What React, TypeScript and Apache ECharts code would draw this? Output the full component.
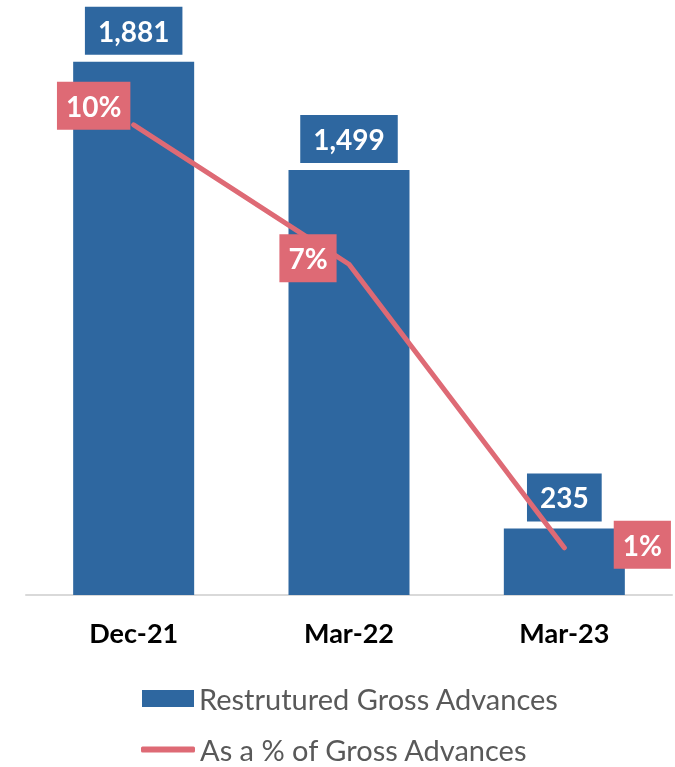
import React, { useEffect, useRef } from "react";
import * as echarts from "echarts";

const categories = ["Dec-21", "Mar-22", "Mar-23"];
const advances = [1881, 1499, 235];
const pctOfGross = [9.95, 7.0, 1.0];
const pctLabels = ["10%", "7%", "1%"];
const barName = "Restrutured Gross Advances";
const lineName = "As a % of Gross Advances";

const BLUE = "#2E67A0";
const PINK = "#DE6A75";
const FONT = "Lato";

// label offsets relative to each point (style only)
const pctLabelOffsets = [
  [-40, -19],
  [-41, -6],
  [78, -3],
];

export default function App() {
  const ref = useRef<HTMLDivElement>(null);

  useEffect(() => {
    if (!ref.current) return;
    const chart = echarts.init(ref.current, undefined, { renderer: "svg" });
    chart.setOption({
      animation: false,
      grid: { top: 28, bottom: 172, left: 26, right: 3 },
      legend: [
        {
          data: [barName],
          orient: "vertical",
          left: 142,
          top: 684,
          padding: 0,
          itemWidth: 52,
          itemHeight: 17,
          icon: "rect",
          textStyle: { fontFamily: FONT, fontSize: 29, lineHeight: 29, color: "#595959" },
        },
        {
          data: [lineName],
          orient: "vertical",
          left: 141,
          top: 735,
          padding: 0,
          itemWidth: 54,
          itemHeight: 6,
          icon: "roundRect",
          textStyle: { fontFamily: FONT, fontSize: 29, lineHeight: 28, color: "#595959" },
        },
      ],
      xAxis: {
        type: "category",
        data: categories,
        axisLine: { lineStyle: { color: "#D9D9D9", width: 2 } },
        axisTick: { show: false },
        axisLabel: {
          margin: 24,
          fontFamily: FONT,
          fontSize: 27,
          fontWeight: "bold",
          color: "#000000",
        },
      },
      yAxis: [
        { type: "value", min: 0, max: 2000, show: false, splitLine: { show: false } },
        { type: "value", min: 0, max: 12, show: false, splitLine: { show: false } },
      ],
      series: [
        {
          name: barName,
          type: "bar",
          data: advances,
          barWidth: 121,
          itemStyle: { color: BLUE },
          label: {
            show: true,
            position: "top",
            distance: 7,
            formatter: (p: any) => Number(p.value).toLocaleString("en-US"),
            backgroundColor: BLUE,
            color: "#FFFFFF",
            fontFamily: FONT,
            fontSize: 28,
            fontWeight: "bold",
            lineHeight: 30,
            padding: [9, 13],
          },
        },
        {
          name: lineName,
          type: "line",
          yAxisIndex: 1,
          data: pctOfGross.map((v, i) => ({
            value: v,
            label: { offset: pctLabelOffsets[i] },
          })),
          symbol: "circle",
          symbolSize: 4,
          itemStyle: { color: PINK },
          lineStyle: { color: PINK, width: 5, cap: "round", join: "round" },
          label: {
            show: true,
            position: "inside",
            formatter: (p: any) => pctLabels[p.dataIndex],
            backgroundColor: PINK,
            color: "#FFFFFF",
            fontFamily: FONT,
            fontSize: 28,
            fontWeight: "bold",
            lineHeight: 30,
            padding: [9, 9],
          },
          z: 3,
        },
      ],
    });
    return () => chart.dispose();
  }, []);

  return (
    <div
      ref={ref}
      style={{ position: "fixed", left: 0, top: 0, width: 675, height: 767 }}
    />
  );
}
